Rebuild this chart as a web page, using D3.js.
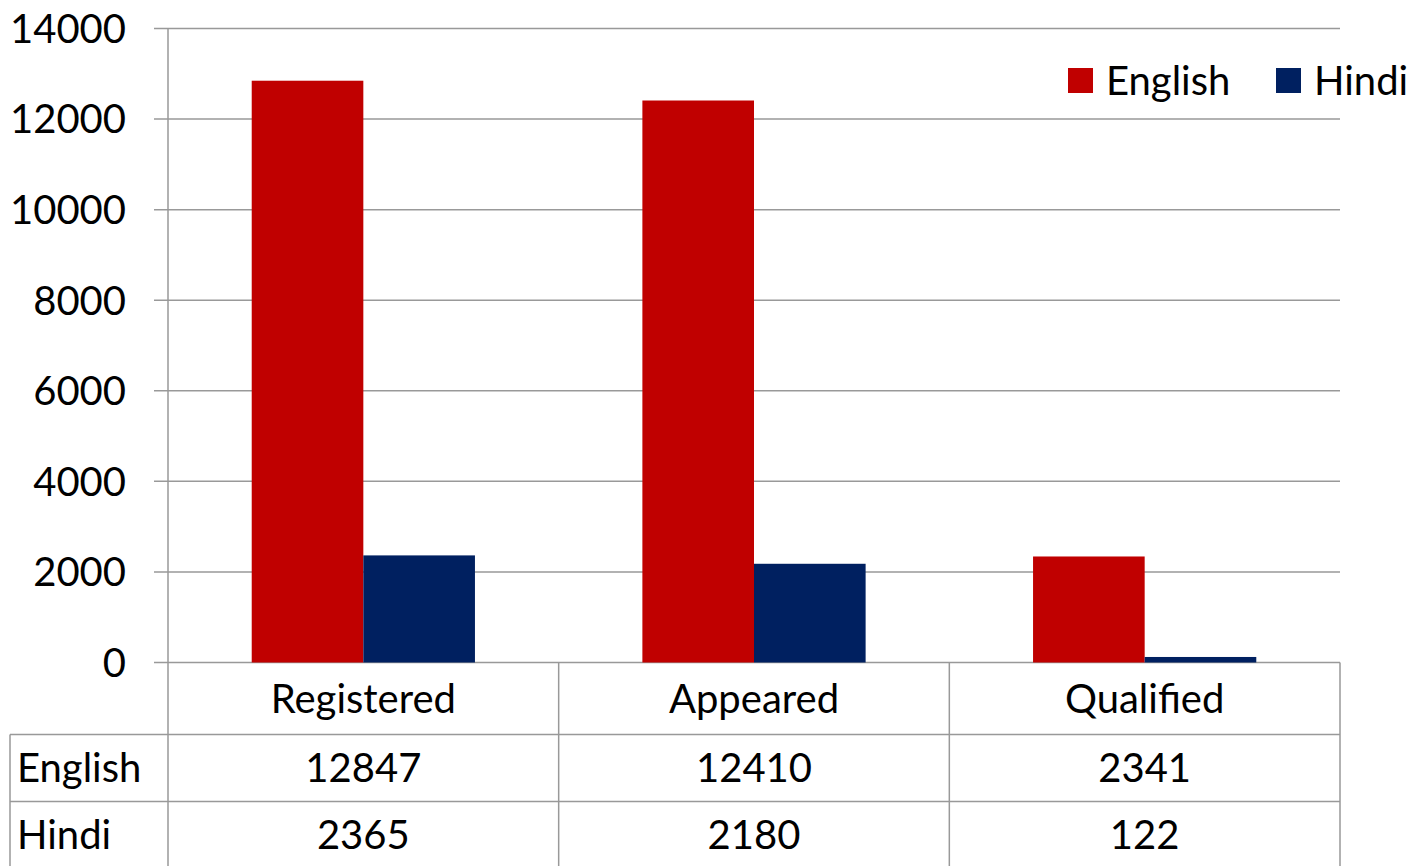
<!DOCTYPE html>
<html>
<head>
<meta charset="utf-8">
<script src="https://cdn.jsdelivr.net/npm/d3@7"></script>
<style>
  body { margin: 0; background: #fff; }
  svg text { font-family: "Lato", "Open Sans", sans-serif; fill: #000; }
</style>
</head>
<body>
<div id="chart"></div>
<script>
// ===== data =====
const categories = ['Registered', 'Appeared', 'Qualified'];
const seriesNames = ['English', 'Hindi'];
const englishVals = [12847, 12410, 2341];
const hindiVals = [2365, 2180, 122];
const yTicks = [0, 2000, 4000, 6000, 8000, 10000, 12000, 14000];
const colors = ['#C00000', '#002060'];

// ===== sizes =====
const W = 1426, H = 866;
const plotLeft = 168, plotRight = 1340, plotTop = 28.5, plotBottom = 662.5;
const rowH = [72, 67, 67];
const tableLeft = 10;
const gridColor = '#999999';

const svg = d3.select('#chart').append('svg')
  .attr('width', W).attr('height', H);

const y = d3.scaleLinear().domain([0, 14000]).range([plotBottom, plotTop]);
const x = d3.scaleBand().domain(categories).range([plotLeft, plotRight]).paddingInner(0).paddingOuter(0);
const xSub = d3.scaleBand().domain(seriesNames).range([0, x.bandwidth()]).paddingInner(0).paddingOuter(0.75);

// gridlines + tick marks
svg.append('g').selectAll('line')
  .data(yTicks)
  .enter().append('line')
  .attr('x1', 154).attr('x2', plotRight)
  .attr('y1', d => y(d)).attr('y2', d => y(d))
  .style('stroke', gridColor).style('stroke-width', 1.5);

// y tick labels
svg.append('g').selectAll('text')
  .data(yTicks)
  .enter().append('text')
  .attr('x', 126).attr('y', d => y(d))
  .attr('dy', '0.36em')
  .attr('text-anchor', 'end')
  .style('font-size', '40px')
  .text(d => d);

// bars
const data = categories.map((c, i) => ({cat: c, vals: [englishVals[i], hindiVals[i]]}));
const groups = svg.append('g').selectAll('g')
  .data(data)
  .enter().append('g')
  .attr('transform', d => 'translate(' + x(d.cat) + ',0)');
groups.selectAll('rect')
  .data(d => d.vals.map((v, j) => ({s: seriesNames[j], v: v, c: colors[j]})))
  .enter().append('rect')
  .attr('x', d => xSub(d.s))
  .attr('width', xSub.bandwidth())
  .attr('y', d => y(d.v))
  .attr('height', d => y(0) - y(d.v))
  .style('fill', d => d.c);

// ===== data table =====
const row0 = plotBottom, row1 = row0 + rowH[0], row2 = row1 + rowH[1], row3 = row2 + rowH[2];
const tg = svg.append('g').style('stroke', gridColor).style('stroke-width', 1.5);
// horizontal lines
tg.append('line').attr('x1', tableLeft).attr('x2', plotRight).attr('y1', row1).attr('y2', row1);
tg.append('line').attr('x1', tableLeft).attr('x2', plotRight).attr('y1', row2).attr('y2', row2);
// vertical lines
tg.append('line').attr('x1', tableLeft).attr('x2', tableLeft).attr('y1', row1).attr('y2', row3);
const vx = categories.map(c => x(c)).concat([plotRight]);
tg.selectAll('.v').data(vx).enter().append('line')
  .attr('x1', d => d).attr('x2', d => d)
  .attr('y1', (d, i) => i === 0 ? plotTop : row0).attr('y2', row3);

// category labels
svg.append('g').selectAll('text')
  .data(categories)
  .enter().append('text')
  .attr('x', d => x(d) + x.bandwidth() / 2)
  .attr('y', (row0 + row1) / 2)
  .attr('dy', '0.36em')
  .attr('text-anchor', 'middle')
  .style('font-size', '40px')
  .text(d => d);

// row headers + values
const rowsY = [(row1 + row2) / 2, (row2 + row3) / 2];
const rowVals = [englishVals, hindiVals];
seriesNames.forEach((s, r) => {
  svg.append('text')
    .attr('x', 17).attr('y', rowsY[r])
    .attr('dy', '0.36em')
    .style('font-size', '40px')
    .text(s);
  svg.append('g').selectAll('text')
    .data(rowVals[r])
    .enter().append('text')
    .attr('x', (d, i) => x(categories[i]) + x.bandwidth() / 2)
    .attr('y', rowsY[r])
    .attr('dy', '0.36em')
    .attr('text-anchor', 'middle')
    .style('font-size', '40px')
    .text(d => d);
});

// ===== legend =====
const legendX = [1068, 1276];
const lg = svg.append('g').selectAll('g')
  .data(seriesNames)
  .enter().append('g')
  .attr('transform', (d, i) => 'translate(' + legendX[i] + ',68)');
lg.append('rect').attr('width', 25).attr('height', 25).style('fill', (d, i) => colors[i]);
lg.append('text').attr('x', 38).attr('y', 12.5).attr('dy', '0.36em')
  .style('font-size', '40px').text(d => d);
</script>
</body>
</html>
